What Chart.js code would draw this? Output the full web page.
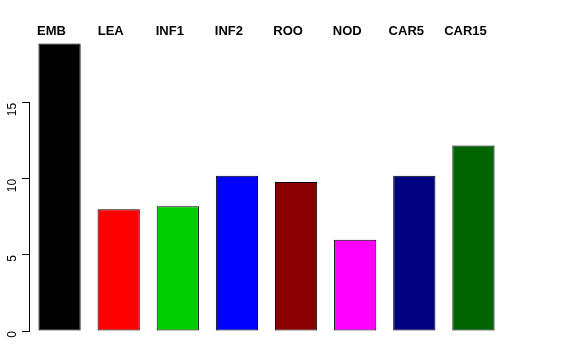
<!DOCTYPE html>
<html>
<head>
<meta charset="utf-8">
<script src="https://cdn.jsdelivr.net/npm/chart.js@4/dist/chart.umd.min.js"></script>
<style>
html,body{margin:0;padding:0;background:#fff;}
#wrap{width:576px;height:360px;}
</style>
</head>
<body>
<div id="wrap"><canvas id="c" width="576" height="360"></canvas></div>
<script>
const categories = ["EMB","LEA","INF1","INF2","ROO","NOD","CAR5","CAR15"];
const values = [18.9, 8.0, 8.2, 10.2, 9.8, 6.0, 10.2, 12.2];
const barColors = ["#000000","#FF0000","#00CD00","#0000FF","#8B0000","#FF00FF","#000080","#006400"];
const yTicks = [0, 5, 10, 15];
const yMax = 19.66;

const topLabels = {
  id: 'topLabels',
  afterDraw(chart) {
    const ctx = chart.ctx;
    const xs = chart.scales.x;
    ctx.save();
    ctx.font = 'bold 13px "Liberation Sans", Arial, sans-serif';
    ctx.fillStyle = '#000';
    ctx.textAlign = 'center';
    ctx.textBaseline = 'alphabetic';
    categories.forEach((c, i) => {
      ctx.fillText(c, xs.getPixelForValue(i) - 8, 35);
    });
    // R-style y axis line spanning first to last tick
    const ys = chart.scales.y;
    const x = Math.round(chart.chartArea.left) - 0.5;
    ctx.strokeStyle = '#000';
    ctx.lineWidth = 1;
    ctx.beginPath();
    ctx.moveTo(x, ys.getPixelForValue(yTicks[0]));
    ctx.lineTo(x, ys.getPixelForValue(yTicks[yTicks.length - 1]));
    ctx.stroke();
    ctx.restore();
  }
};

new Chart(document.getElementById('c'), {
  type: 'bar',
  data: {
    labels: categories,
    datasets: [{
      data: values,
      backgroundColor: barColors,
      borderColor: '#000',
      borderWidth: 1,
      borderSkipped: false,
      barPercentage: 0.7145,
      categoryPercentage: 1.0
    }]
  },
  options: {
    responsive: false,
    animation: false,
    devicePixelRatio: 1,
    layout: { padding: { left: 0, right: 73, top: 32, bottom: 29 } },
    plugins: { legend: { display: false }, tooltip: { enabled: false } },
    scales: {
      x: {
        display: false,
        offset: true,
        grid: { display: false }
      },
      y: {
        min: 0,
        max: yMax,
        afterBuildTicks: s => { s.ticks = yTicks.map(v => ({ value: v })); },
        afterFit: s => { s.width = 30; },
        border: { display: false },
        grid: { drawOnChartArea: false, drawTicks: true, tickLength: 8, color: '#000', tickColor: '#000' },
        ticks: {
          minRotation: 90,
          maxRotation: 90,
          padding: 9,
          color: '#000',
          font: { family: '"Liberation Sans", Arial, sans-serif', size: 12 }
        }
      }
    }
  },
  plugins: [topLabels]
});
</script>
</body>
</html>
